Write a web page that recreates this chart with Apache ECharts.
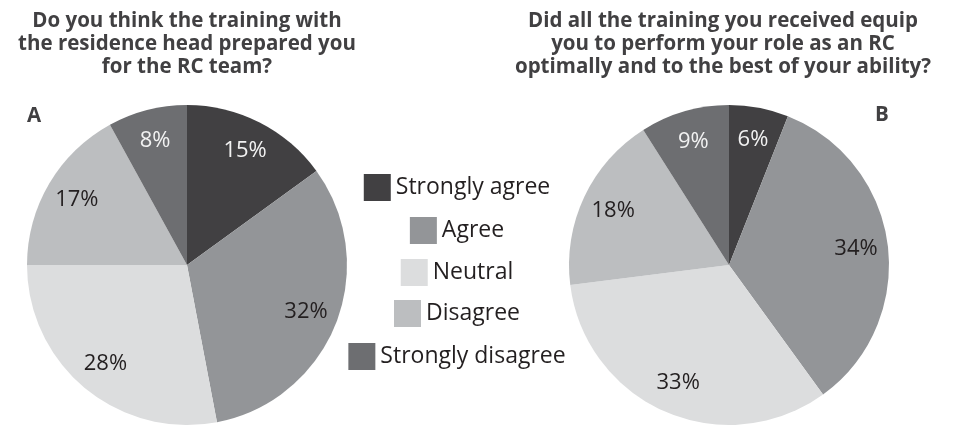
<!DOCTYPE html>
<html><head><meta charset="utf-8">
<script src="https://cdn.jsdelivr.net/npm/echarts@6/dist/echarts.min.js"></script>
<style>html,body{margin:0;padding:0;background:#fff}#c{width:960px;height:426px}</style>
</head><body><div id="c"></div>
<script>
const categories = ['Strongly agree', 'Agree', 'Neutral', 'Disagree', 'Strongly disagree'];
const valuesA = [15, 32, 28, 17, 8];
const valuesB = [6, 34, 33, 18, 9];
const titleA = 'Do you think the training with\nthe residence head prepared you\nfor the RC team?';
const titleB = 'Did all the training you received equip\nyou to perform your role as an RC\noptimally and to the best of your ability?';
const panelA = 'A';
const panelB = 'B';

const colors = ['#414042', '#939598', '#dcddde', '#bcbec0', '#6d6e71'];
const labelColors = ['#f2f2f2', '#231f20', '#231f20', '#231f20', '#f2f2f2'];
const FONT = '"Open Sans", "Noto Sans", sans-serif';
const LEGEND_FS = 23;

function pieData(vals) {
  return categories.map((n, i) => ({ name: n, value: vals[i], itemStyle: { color: colors[i] } }));
}
function labelData(vals) {
  return categories.map((n, i) => ({ name: n, value: vals[i], itemStyle: { color: 'rgba(0,0,0,0)' },
    label: { color: labelColors[i] } }));
}
function mainPie(center, vals) {
  return { type: 'pie', center: center, radius: [0, 160], startAngle: 90, clockwise: true,
    animation: false, silent: true, label: { show: false }, labelLine: { show: false },
    itemStyle: { borderWidth: 0 }, data: pieData(vals) };
}
function labelPie(center, vals) {
  return { type: 'pie', center: center, radius: [90, 160], startAngle: 90, clockwise: true,
    animation: false, silent: true, labelLine: { show: false },
    label: { show: true, position: 'inside', formatter: '{c}%', fontFamily: FONT, fontSize: 22 },
    itemStyle: { borderWidth: 0 }, data: labelData(vals) };
}

// legend rows, each centred on the same x
const cv = document.createElement('canvas').getContext('2d');
cv.font = LEGEND_FS + 'px ' + FONT;
const rowTops = [174, 217, 259, 300, 343];
const legendCenter = 457;
const legends = categories.map((n, i) => {
  const w = 27 + 5 + cv.measureText(n).width;
  return { data: [n], left: legendCenter - w / 2, top: rowTops[i], padding: 0, icon: 'rect',
    itemWidth: 27, itemHeight: 27, itemGap: 0, selectedMode: false,
    textStyle: { fontFamily: FONT, fontSize: LEGEND_FS, color: '#231f20' } };
});

const chart = echarts.init(document.getElementById('c'), null, { renderer: 'canvas' });
chart.setOption({
  backgroundColor: '#fff',
  animation: false,
  legend: legends,
  graphic: [
    { type: 'text', x: 187, y: 10, style: { text: titleA, font: 'bold 20.5px ' + FONT, fill: '#414042', align: 'center', lineHeight: 23 } },
    { type: 'text', x: 723, y: 10, style: { text: titleB, font: 'bold 20.5px ' + FONT, fill: '#414042', align: 'center', lineHeight: 23 } },
    { type: 'text', x: 34, y: 106, style: { text: panelA, font: 'bold 20.5px ' + FONT, fill: '#414042', align: 'center' } },
    { type: 'text', x: 882, y: 105, style: { text: panelB, font: 'bold 20.5px ' + FONT, fill: '#414042', align: 'center' } }
  ],
  series: [
    mainPie([187, 265], valuesA),
    mainPie([729, 265], valuesB),
    labelPie([187, 265], valuesA),
    labelPie([729, 265], valuesB)
  ]
});
</script></body></html>
